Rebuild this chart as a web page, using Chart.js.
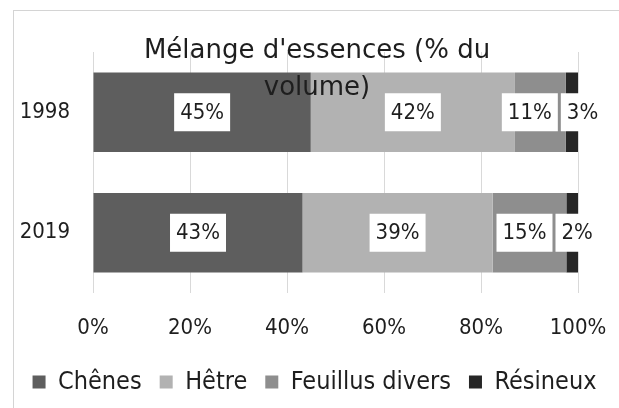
<!DOCTYPE html>
<html>
<head>
<meta charset="utf-8">
<script src="https://cdn.jsdelivr.net/npm/chart.js@4"></script>
<style>
  html, body { margin: 0; padding: 0; background: #fff; }
  #frame { position: absolute; left: 13px; top: 10px; width: 620px; height: 410px; border: 1px solid #d4d4d4; }
  #wrap { position: absolute; left: 0; top: 0; width: 619px; height: 408px; }
</style>
</head>
<body>
<div id="frame"></div>
<div id="wrap"><canvas id="myChart" width="619" height="408"></canvas></div>
<script>
var years = ['1998', '2019'];
var chenes = [44.9, 43.2];
var hetre = [42.1, 39.2];
var feuillus = [10.5, 15.2];
var resineux = [2.5, 2.4];
var xTicks = [0, 20, 40, 60, 80, 100];
var titleLines = ["Mélange d'essences (% du", 'volume)'];

var FONT = "'DejaVu Sans Condensed', 'DejaVu Sans', sans-serif";
var TEXT = '#1e1e1e';

// white boxed value labels, pushed apart when they collide
var boxLabels = {
  id: 'boxLabels',
  afterDatasetsDraw: function(chart) {
    var ctx = chart.ctx;
    ctx.save();
    ctx.font = '22px ' + FONT;
    ctx.textAlign = 'center';
    ctx.textBaseline = 'middle';
    years.forEach(function(y, i) {
      var boxes = [];
      chart.data.datasets.forEach(function(ds, d) {
        var el = chart.getDatasetMeta(d).data[i];
        var txt = Math.round(ds.data[i]) + '%';
        var w = ctx.measureText(txt).width + 12;
        var cx = (el.x + el.base) / 2;
        boxes.push({ txt: txt, w: w, cx: cx, cy: el.y });
      });
      for (var k = 1; k < boxes.length; k++) {
        var a = boxes[k - 1], b = boxes[k];
        var ov = (a.cx + a.w / 2) - (b.cx - b.w / 2) + 3;
        if (ov > 0) { a.cx -= ov / 2; b.cx += ov / 2; }
      }
      boxes.forEach(function(b) {
        ctx.fillStyle = '#ffffff';
        ctx.fillRect(b.cx - b.w / 2, b.cy - 19, b.w, 38);
        ctx.fillStyle = TEXT;
        ctx.fillText(b.txt, b.cx, b.cy + 1);
      });
    });
    ctx.restore();
  }
};

// title drawn over the plot, like the original
var overTitle = {
  id: 'overTitle',
  afterDraw: function(chart) {
    var ctx = chart.ctx;
    ctx.save();
    ctx.font = "26px 'DejaVu Sans', sans-serif";
    ctx.fillStyle = TEXT;
    ctx.textAlign = 'center';
    ctx.textBaseline = 'alphabetic';
    titleLines.forEach(function(line, i) {
      ctx.fillText(line, 317, 58 + i * 37);
    });
    ctx.restore();
  }
};

var ctx = document.getElementById('myChart').getContext('2d');
var config = {
  type: 'bar',
  data: {
    labels: years,
    datasets: [
      { label: 'Chênes', data: chenes, backgroundColor: '#5e5e5e' },
      { label: 'Hêtre', data: hetre, backgroundColor: '#b2b2b2' },
      { label: 'Feuillus divers', data: feuillus, backgroundColor: '#8e8e8e' },
      { label: 'Résineux', data: resineux, backgroundColor: '#262626' }
    ]
  },
  options: {
    indexAxis: 'y',
    responsive: false,
    animation: false,
    datasets: { bar: { barPercentage: 0.66, categoryPercentage: 1 } },
    layout: { padding: { top: 52, right: 0, bottom: 3.5, left: 10 } },
    scales: {
      x: {
        stacked: true,
        min: 0,
        max: 100,
        afterBuildTicks: function(scale) {
          scale.ticks = xTicks.map(function(v) { return { value: v }; });
        },
        afterFit: function(scale) {
          scale.height = 58.5;
          scale.paddingLeft = 0;
          scale.paddingRight = 41;
        },
        grid: { color: '#d9d9d9', drawTicks: false },
        border: { display: false },
        ticks: {
          padding: 22.5,
          color: TEXT,
          font: { family: FONT, size: 22 },
          callback: function(v) { return v + '%'; }
        }
      },
      y: {
        stacked: true,
        afterFit: function(scale) { scale.width = 83; },
        grid: { display: false },
        border: { display: false },
        ticks: { padding: 15, color: TEXT, font: { family: FONT, size: 22 } }
      }
    },
    plugins: {
      legend: {
        position: 'bottom',
        labels: {
          color: TEXT,
          boxWidth: 13,
          boxHeight: 13,
          padding: 18,
          font: { family: FONT, size: 25 }
        }
      },
      tooltip: { enabled: false }
    }
  },
  plugins: [boxLabels, overTitle]
};
var myChart = new Chart(ctx, config);
</script>
</body>
</html>
